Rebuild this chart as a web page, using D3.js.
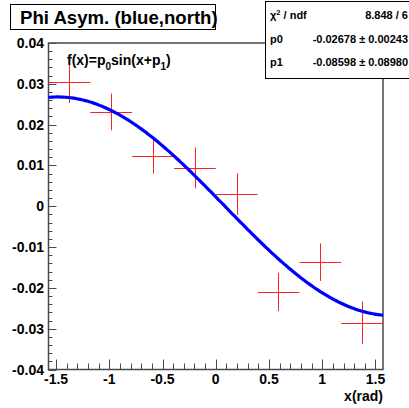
<!DOCTYPE html>
<html>
<head>
<meta charset="utf-8">
<script src="https://cdn.jsdelivr.net/npm/d3@7"></script>
<style>
body { margin: 0; background: #fff; }
svg { display: block; }
text { font-family: "Liberation Sans", Arial, Helvetica, sans-serif; }
</style>
</head>
<body>
<svg id="chart" width="409" height="408"></svg>
<script>
// ---- data ----
const xCenters = [-1.374, -0.982, -0.589, -0.196, 0.196, 0.589, 0.982, 1.374];
const xHalfWidths = [0.196, 0.196, 0.196, 0.196, 0.196, 0.196, 0.196, 0.196];
const yValues = [0.0304, 0.0231, 0.0123, 0.0094, 0.0030, -0.0210, -0.0137, -0.0285];
const yErrors = [0.0051, 0.0045, 0.0043, 0.0050, 0.0051, 0.0047, 0.0046, 0.0052];
const fitP0 = -0.02678;
const fitP1 = -0.08598;
const xTickLabels = ["-1.5", "-1", "-0.5", "0", "0.5", "1", "1.5"];
const yTickLabels = ["-0.04", "-0.03", "-0.02", "-0.01", "0", "0.01", "0.02", "0.03", "0.04"];
const statsRows = [
  ["χ² / ndf", "8.848 / 6"],
  ["p0", "-0.02678 ± 0.00243"],
  ["p1", "-0.08598 ± 0.08980"]
];
const titleText = "Phi Asym. (blue,north)";
const xAxisTitle = "x(rad)";

// ---- layout ----
const svg = d3.select("#chart");
const L = 48.5, R = 383, T = 43, B = 369.5;
const x = d3.scaleLinear().domain([-Math.PI / 2, Math.PI / 2]).range([L, R]);
const y = d3.scaleLinear().domain([-0.04, 0.04]).range([B, T]);
const frameColor = "#4a4a4a";

// frame
svg.append("rect").attr("x", L).attr("y", T).attr("width", R - L).attr("height", B - T)
  .attr("fill", "none").attr("stroke", frameColor).attr("stroke-width", 1.5);

// y axis ticks (inside)
const yMinor = d3.range(-40, 41, 2).map(v => v / 1000);
const gy = svg.append("g");
yMinor.forEach(v => {
  const major = Math.abs(Math.round(v * 1000) % 10) === 0;
  gy.append("line").attr("x1", L).attr("x2", L + (major ? 8 : 4))
    .attr("y1", Math.round(y(v)) + 0.5).attr("y2", Math.round(y(v)) + 0.5)
    .attr("stroke", frameColor).attr("stroke-width", 1);
});
yTickLabels.forEach(s => {
  gy.append("text").attr("x", 44).attr("y", y(+s)).attr("dy", "0.36em")
    .attr("text-anchor", "end").attr("font-size", 14).attr("font-weight", "bold")
    .attr("fill", "#000").text(s);
});

// x axis ticks (inside, upward)
const xMinor = d3.range(-15, 16, 1).map(v => v / 10);
const gx = svg.append("g");
xMinor.forEach(v => {
  const major = Math.abs(Math.round(v * 10) % 5) === 0;
  gx.append("line").attr("x1", Math.round(x(v)) + 0.5).attr("x2", Math.round(x(v)) + 0.5)
    .attr("y1", B).attr("y2", B - (major ? 10 : 6))
    .attr("stroke", frameColor).attr("stroke-width", 1);
});
xTickLabels.forEach(s => {
  gx.append("text").attr("x", x(+s)).attr("y", 384)
    .attr("text-anchor", "middle").attr("font-size", 14).attr("font-weight", "bold")
    .attr("fill", "#000").text(s);
});
svg.append("text").attr("x", R).attr("y", 401).attr("text-anchor", "end")
  .attr("font-size", 14).attr("font-weight", "bold").text(xAxisTitle);

// data points with error bars
const pts = svg.append("g").attr("stroke", "#ff2020").attr("stroke-width", 1);
xCenters.forEach((xc, i) => {
  pts.append("line").attr("x1", x(xc - xHalfWidths[i])).attr("x2", x(xc + xHalfWidths[i]))
    .attr("y1", Math.round(y(yValues[i])) + 0.5).attr("y2", Math.round(y(yValues[i])) + 0.5);
  pts.append("line").attr("x1", Math.round(x(xc)) + 0.5).attr("x2", Math.round(x(xc)) + 0.5)
    .attr("y1", y(yValues[i] + yErrors[i])).attr("y2", y(yValues[i] - yErrors[i]));
});

// fit curve
const curveX = d3.range(0, 201).map(i => -Math.PI / 2 + i * Math.PI / 200);
const line = d3.line().x(d => x(d)).y(d => y(fitP0 * Math.sin(d + fitP1)));
svg.append("path").datum(curveX).attr("d", line).attr("fill", "none")
  .attr("stroke", "#0000ff").attr("stroke-width", 3.2);

// formula label
const f = svg.append("text").attr("x", 67).attr("y", 65).attr("font-size", 14)
  .attr("font-weight", "bold").attr("fill", "#000");
f.append("tspan").text("f(x)=p");
f.append("tspan").attr("dy", 5).attr("font-size", 10).text("0");
f.append("tspan").attr("dy", -5).text("sin(x+p");
f.append("tspan").attr("dy", 5).attr("font-size", 10).text("1");
f.append("tspan").attr("dy", -5).text(")");

// title box
svg.append("rect").attr("x", 10.5).attr("y", 4.5).attr("width", 205).attr("height", 25)
  .attr("fill", "#fff").attr("stroke", "#000").attr("stroke-width", 1);
svg.append("text").attr("x", 20).attr("y", 24).attr("font-size", 18.6)
  .attr("font-weight", "bold").text(titleText);

// stats box
svg.append("rect").attr("x", 265.5).attr("y", 1.5).attr("width", 150).attr("height", 77)
  .attr("fill", "#fff").attr("stroke", "#000").attr("stroke-width", 1);
const rowY = [19, 43, 66];
statsRows.forEach((r, i) => {
  const t = svg.append("text").attr("x", 270).attr("y", rowY[i]).attr("font-size", 11)
    .attr("font-weight", "bold");
  if (i === 0) {
    t.append("tspan").text("χ");
    t.append("tspan").attr("dy", -4).attr("font-size", 7.5).text("2");
    t.append("tspan").attr("dy", 4).text(" / ndf");
  } else {
    t.text(r[0]);
  }
  svg.append("text").attr("x", 408).attr("y", rowY[i]).attr("font-size", 11)
    .attr("font-weight", "bold").attr("text-anchor", "end").text(r[1]);
});
</script>
</body>
</html>
